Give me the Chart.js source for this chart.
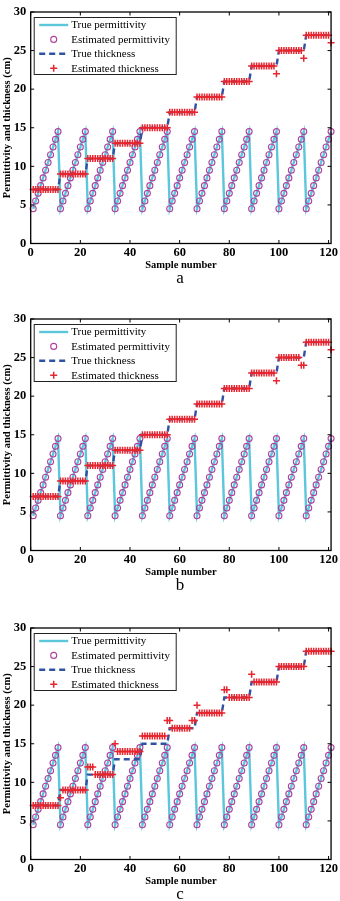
<!DOCTYPE html>
<html>
<head>
<meta charset="utf-8">
<script src="https://cdn.jsdelivr.net/npm/chart.js@4.4.1/dist/chart.umd.min.js"></script>
<style>
  html, body { margin: 0; padding: 0; background: #fff; }
  #wrap { position: relative; width: 340px; height: 901px; }
  .panel { position: absolute; left: 0; width: 340px; height: 285px; }
</style>
</head>
<body>
<div id="wrap">
  <div class="panel" style="top:0px"><canvas id="chartA" width="340" height="285"></canvas></div>
  <div class="panel" style="top:307px"><canvas id="chartB" width="340" height="285"></canvas></div>
  <div class="panel" style="top:616px"><canvas id="chartC" width="340" height="285"></canvas></div>
</div>
<script>
// sample index (x axis)
var samples = [
  1, 2, 3, 4, 5, 6, 7, 8, 9, 10, 11,
  12, 13, 14, 15, 16, 17, 18, 19, 20, 21, 22,
  23, 24, 25, 26, 27, 28, 29, 30, 31, 32, 33,
  34, 35, 36, 37, 38, 39, 40, 41, 42, 43, 44,
  45, 46, 47, 48, 49, 50, 51, 52, 53, 54, 55,
  56, 57, 58, 59, 60, 61, 62, 63, 64, 65, 66,
  67, 68, 69, 70, 71, 72, 73, 74, 75, 76, 77,
  78, 79, 80, 81, 82, 83, 84, 85, 86, 87, 88,
  89, 90, 91, 92, 93, 94, 95, 96, 97, 98, 99,
  100, 101, 102, 103, 104, 105, 106, 107, 108, 109, 110,
  111, 112, 113, 114, 115, 116, 117, 118, 119, 120, 121
];

var truePermittivity = [
  4.5, 5.5, 6.5, 7.5, 8.5, 9.5, 10.5, 11.5, 12.5, 13.5, 14.5,
  4.5, 5.5, 6.5, 7.5, 8.5, 9.5, 10.5, 11.5, 12.5, 13.5, 14.5,
  4.5, 5.5, 6.5, 7.5, 8.5, 9.5, 10.5, 11.5, 12.5, 13.5, 14.5,
  4.5, 5.5, 6.5, 7.5, 8.5, 9.5, 10.5, 11.5, 12.5, 13.5, 14.5,
  4.5, 5.5, 6.5, 7.5, 8.5, 9.5, 10.5, 11.5, 12.5, 13.5, 14.5,
  4.5, 5.5, 6.5, 7.5, 8.5, 9.5, 10.5, 11.5, 12.5, 13.5, 14.5,
  4.5, 5.5, 6.5, 7.5, 8.5, 9.5, 10.5, 11.5, 12.5, 13.5, 14.5,
  4.5, 5.5, 6.5, 7.5, 8.5, 9.5, 10.5, 11.5, 12.5, 13.5, 14.5,
  4.5, 5.5, 6.5, 7.5, 8.5, 9.5, 10.5, 11.5, 12.5, 13.5, 14.5,
  4.5, 5.5, 6.5, 7.5, 8.5, 9.5, 10.5, 11.5, 12.5, 13.5, 14.5,
  4.5, 5.5, 6.5, 7.5, 8.5, 9.5, 10.5, 11.5, 12.5, 13.5, 14.5
];

// circles sit on the true line in all three panels
var estPermittivity = [
  4.5, 5.5, 6.5, 7.5, 8.5, 9.5, 10.5, 11.5, 12.5, 13.5, 14.5,
  4.5, 5.5, 6.5, 7.5, 8.5, 9.5, 10.5, 11.5, 12.5, 13.5, 14.5,
  4.5, 5.5, 6.5, 7.5, 8.5, 9.5, 10.5, 11.5, 12.5, 13.5, 14.5,
  4.5, 5.5, 6.5, 7.5, 8.5, 9.5, 10.5, 11.5, 12.5, 13.5, 14.5,
  4.5, 5.5, 6.5, 7.5, 8.5, 9.5, 10.5, 11.5, 12.5, 13.5, 14.5,
  4.5, 5.5, 6.5, 7.5, 8.5, 9.5, 10.5, 11.5, 12.5, 13.5, 14.5,
  4.5, 5.5, 6.5, 7.5, 8.5, 9.5, 10.5, 11.5, 12.5, 13.5, 14.5,
  4.5, 5.5, 6.5, 7.5, 8.5, 9.5, 10.5, 11.5, 12.5, 13.5, 14.5,
  4.5, 5.5, 6.5, 7.5, 8.5, 9.5, 10.5, 11.5, 12.5, 13.5, 14.5,
  4.5, 5.5, 6.5, 7.5, 8.5, 9.5, 10.5, 11.5, 12.5, 13.5, 14.5,
  4.5, 5.5, 6.5, 7.5, 8.5, 9.5, 10.5, 11.5, 12.5, 13.5, 14.5
];

var trueThickness = [
  7, 7, 7, 7, 7, 7, 7, 7, 7, 7, 7,
  9, 9, 9, 9, 9, 9, 9, 9, 9, 9, 9,
  11, 11, 11, 11, 11, 11, 11, 11, 11, 11, 11,
  13, 13, 13, 13, 13, 13, 13, 13, 13, 13, 13,
  15, 15, 15, 15, 15, 15, 15, 15, 15, 15, 15,
  17, 17, 17, 17, 17, 17, 17, 17, 17, 17, 17,
  19, 19, 19, 19, 19, 19, 19, 19, 19, 19, 19,
  21, 21, 21, 21, 21, 21, 21, 21, 21, 21, 21,
  23, 23, 23, 23, 23, 23, 23, 23, 23, 23, 23,
  25, 25, 25, 25, 25, 25, 25, 25, 25, 25, 25,
  27, 27, 27, 27, 27, 27, 27, 27, 27, 27, 27
];

var estThicknessA = [
  7, 7, 7, 7, 7, 7, 7, 7, 7, 7, 7,
  9, 9, 9, 9, 9, 9, 9, 9, 9, 9, 9,
  11, 11, 11, 11, 11, 11, 11, 11, 11, 11, 11,
  13, 13, 13, 13, 13, 13, 13, 13, 13, 13, 13,
  15, 15, 15, 15, 15, 15, 15, 15, 15, 15, 15,
  17, 17, 17, 17, 17, 17, 17, 17, 17, 17, 17,
  19, 19, 19, 19, 19, 19, 19, 19, 19, 19, 19,
  21, 21, 21, 21, 21, 21, 21, 21, 21, 21, 21,
  23, 23, 23, 23, 23, 23, 23, 23, 23, 23, 22,
  25, 25, 25, 25, 25, 25, 25, 25, 25, 25, 24,
  27, 27, 27, 27, 27, 27, 27, 27, 27, 27, 26
];

var estThicknessB = [
  7, 7, 7, 7, 7, 7, 7, 7, 7, 7, 7,
  9, 9, 9, 9, 9, 9, 9, 9, 9, 9, 9,
  11, 11, 11, 11, 11, 11, 11, 11, 11, 11, 11,
  13, 13, 13, 13, 13, 13, 13, 13, 13, 13, 13,
  15, 15, 15, 15, 15, 15, 15, 15, 15, 15, 15,
  17, 17, 17, 17, 17, 17, 17, 17, 17, 17, 17,
  19, 19, 19, 19, 19, 19, 19, 19, 19, 19, 19,
  21, 21, 21, 21, 21, 21, 21, 21, 21, 21, 21,
  23, 23, 23, 23, 23, 23, 23, 23, 23, 23, 22,
  25, 25, 25, 25, 25, 25, 25, 25, 25, 24, 24,
  27, 27, 27, 27, 27, 27, 27, 27, 27, 27, 26
];

var estThicknessC = [
  7, 7, 7, 7, 7, 7, 7, 7, 7, 7, 7,
  8, 9, 9, 9, 9, 9, 9, 9, 9, 9, 9,
  12, 12, 12, 11, 11, 11, 11, 11, 11, 11, 11,
  15, 14, 14, 14, 14, 14, 14, 14, 14, 14, 14,
  16, 16, 16, 16, 16, 16, 16, 16, 16, 16, 18,
  18, 17, 17, 17, 17, 17, 17, 17, 17, 18, 18,
  20, 19, 19, 19, 19, 19, 19, 19, 19, 19, 19,
  22, 22, 21, 21, 21, 21, 21, 21, 21, 21, 21,
  24, 23, 23, 23, 23, 23, 23, 23, 23, 23, 23,
  25, 25, 25, 25, 25, 25, 25, 25, 25, 25, 25,
  27, 27, 27, 27, 27, 27, 27, 27, 27, 27, 27
];

var xTicks = [0, 20, 40, 60, 80, 100, 120];
var yTicks = [0, 5, 10, 15, 20, 25, 30];

var SERIF = "'Liberation Serif', 'Times New Roman', serif";

function pairs(ys) {
  return samples.map(function(x, i) { return {x: x, y: ys[i]}; });
}

// matlab style box with inward ticks on every side
var boxTicks = {
  id: 'boxTicks',
  afterDatasetsDraw(chart) {
    var ctx = chart.ctx, a = chart.chartArea;
    var xs = chart.scales.x, ys = chart.scales.y;
    var len = 3.5;
    ctx.save();
    ctx.strokeStyle = '#000';
    ctx.lineWidth = 1;
    ctx.beginPath();
    xs.ticks.forEach(function(t) {
      var p = xs.getPixelForValue(t.value);
      ctx.moveTo(p, a.bottom); ctx.lineTo(p, a.bottom - len);
      ctx.moveTo(p, a.top); ctx.lineTo(p, a.top + len);
    });
    ys.ticks.forEach(function(t) {
      var p = ys.getPixelForValue(t.value);
      ctx.moveTo(a.left, p); ctx.lineTo(a.left + len, p);
      ctx.moveTo(a.right, p); ctx.lineTo(a.right - len, p);
    });
    ctx.stroke();
    ctx.lineWidth = 1.3;
    ctx.strokeRect(a.left, a.top, a.right - a.left, a.bottom - a.top);
    ctx.restore();
  }
};

// legend box in the upper left corner of the axes
var boxLegend = {
  id: 'boxLegend',
  afterDraw(chart) {
    var ctx = chart.ctx, a = chart.chartArea;
    var x0 = a.left + 3.5, y0 = a.top + 5.5, w = 142, h = 57;
    ctx.save();
    ctx.fillStyle = '#fff';
    ctx.fillRect(x0, y0, w, h);
    ctx.strokeStyle = '#222';
    ctx.lineWidth = 1;
    ctx.strokeRect(x0, y0, w, h);
    ctx.font = '11px ' + SERIF;
    ctx.textBaseline = 'middle';
    chart.data.datasets.forEach(function(ds, i) {
      var cy = y0 + 7.5 + i * 14.4;
      var sx0 = x0 + 5, sx1 = x0 + 34, mx = (sx0 + sx1) / 2;
      ctx.save();
      if (ds.showLine !== false) {
        ctx.strokeStyle = ds.borderColor;
        ctx.lineWidth = ds.borderWidth;
        ctx.setLineDash(ds.borderDash || []);
        ctx.beginPath();
        ctx.moveTo(sx0, cy); ctx.lineTo(sx1, cy);
        ctx.stroke();
      } else {
        var r = ds.pointRadius;
        ctx.strokeStyle = ds.pointBorderColor;
        ctx.lineWidth = ds.pointBorderWidth;
        ctx.beginPath();
        if (ds.pointStyle === 'circle') {
          ctx.arc(mx, cy, r, 0, Math.PI * 2);
        } else {
          ctx.moveTo(mx - r, cy); ctx.lineTo(mx + r, cy);
          ctx.moveTo(mx, cy - r); ctx.lineTo(mx, cy + r);
        }
        ctx.stroke();
      }
      ctx.restore();
      ctx.fillStyle = '#000';
      ctx.fillText(ds.label, x0 + 37, cy + 0.5);
    });
    // panel letter under the axis title
    ctx.font = '17px ' + SERIF;
    ctx.textAlign = 'center';
    ctx.fillStyle = '#000';
    ctx.fillText(chart.options.panelLetter, 180, 279);
    ctx.restore();
  }
};

function buildChart(id, estThickness, letter) {
  var ctx = document.getElementById(id).getContext('2d');
  return new Chart(ctx, {
    type: 'line',
    data: {
      datasets: [
        {
          label: 'True permittivity',
          data: pairs(truePermittivity),
          borderColor: '#5cc6da',
          borderWidth: 2.4,
          pointRadius: 0,
          tension: 0,
          fill: false,
          order: 4
        },
        {
          label: 'Estimated permittivity',
          data: pairs(estPermittivity),
          showLine: false,
          pointStyle: 'circle',
          pointRadius: 3,
          pointBorderWidth: 1.1,
          pointBorderColor: '#b0409f',
          pointBackgroundColor: 'rgba(0,0,0,0)',
          order: 3
        },
        {
          label: 'True thickness',
          data: pairs(trueThickness),
          borderColor: '#3152a3',
          borderWidth: 2.4,
          borderDash: [6, 4],
          pointRadius: 0,
          tension: 0,
          fill: false,
          order: 2
        },
        {
          label: 'Estimated thickness',
          data: pairs(estThickness),
          showLine: false,
          pointStyle: 'cross',
          pointRadius: 3.5,
          pointBorderWidth: 1.5,
          pointBorderColor: '#e8252e',
          pointBackgroundColor: '#e8252e',
          order: 1
        }
      ]
    },
    options: {
      responsive: false,
      animation: false,
      clip: false,
      panelLetter: letter,
      layout: { padding: { top: 3.5, right: 5, bottom: 0, left: 0 } },
      plugins: {
        legend: { display: false },
        tooltip: { enabled: false }
      },
      scales: {
        x: {
          type: 'linear',
          min: 0,
          max: 121,
          afterBuildTicks: function(scale) {
            scale.ticks = xTicks.map(function(v) { return {value: v}; });
          },
          afterFit: function(scale) { scale.height = 41.5; },
          grid: { display: false, drawTicks: false },
          border: { display: false },
          ticks: {
            padding: 2,
            maxRotation: 0,
            color: '#000',
            font: { family: SERIF, size: 12.5, weight: 'bold' }
          },
          title: {
            display: true,
            text: 'Sample number',
            color: '#000',
            padding: { top: 0, bottom: 13.7 },
            font: { family: SERIF, size: 10.5, weight: 'bold' }
          }
        },
        y: {
          min: 0,
          max: 30,
          afterBuildTicks: function(scale) {
            scale.ticks = yTicks.map(function(v) { return {value: v}; });
          },
          afterFit: function(scale) { scale.width = 30.7; },
          grid: { display: false, drawTicks: false },
          border: { display: false },
          ticks: {
            padding: 4.5,
            color: '#000',
            font: { family: SERIF, size: 12.5, weight: 'bold' }
          },
          title: {
            display: true,
            text: 'Permittivity and thickness (cm)',
            color: '#000',
            padding: { top: 0.7, bottom: 0 },
            font: { family: SERIF, size: 10.5, weight: 'bold' }
          }
        }
      }
    },
    plugins: [boxTicks, boxLegend]
  });
}

buildChart('chartA', estThicknessA, 'a');
buildChart('chartB', estThicknessB, 'b');
buildChart('chartC', estThicknessC, 'c');
</script>
</body>
</html>
